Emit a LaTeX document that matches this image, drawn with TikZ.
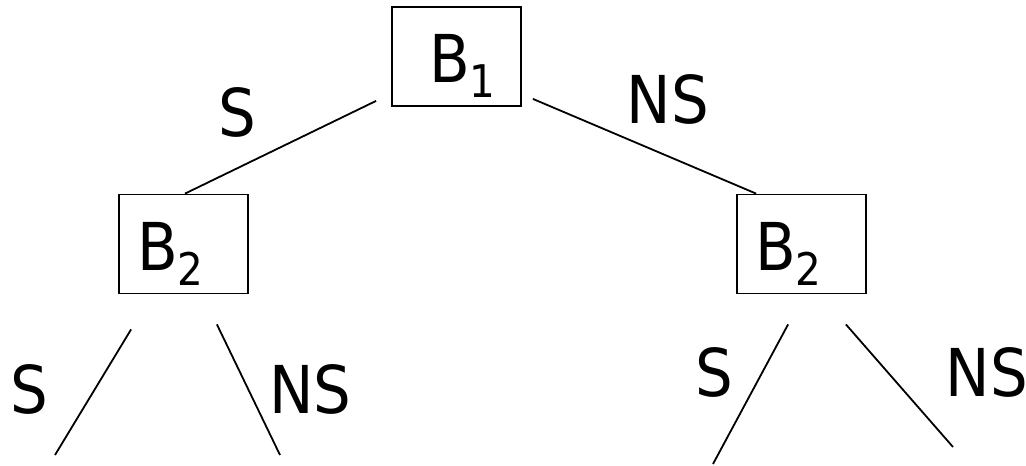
\documentclass[tikz,border=0pt]{standalone}
\usepackage{fontspec}
\setmainfont{DejaVu Sans Condensed}
\newcommand{\lowsub}[1]{\kern-1pt\raisebox{-15pt}{\fontsize{45}{45}\selectfont #1}}

\begin{document}
\begin{tikzpicture}[x=1pt, y=-1pt, line width=1.8pt,
    box/.style={draw, minimum width=129pt, minimum height=99pt, inner sep=0pt},
    lbl/.style={inner sep=0pt, font=\fontsize{66}{70}\selectfont}]
  \useasboundingbox (0,0) rectangle (1026,466);
  \node [box] (b1) at (456.5,56.5) {};  % top box
  \node [box] (b2l) at (183.5,244) {};  % left box
  \node [box] (b2r) at (801.5,244) {};  % right box
  \node [lbl, anchor=base west] (b1t) at (429,82) {B\lowsub{1}};
  \node [lbl, anchor=base west] (b2lt) at (137,270) {B\lowsub{2}};
  \node [lbl, anchor=base west] (b2rt) at (755,270) {B\lowsub{2}};
  \coordinate (endll) at (55,455);
  \coordinate (endlr) at (280,455);
  \coordinate (endrl) at (713,464);
  \coordinate (endrr) at (953,447);
  \draw ([shift={(-15,-6)}]b1.south west) -- ([xshift=1.5pt]b2l.north);
  \draw ([shift={(11,-8)}]b1.south east) -- ([xshift=20pt]b2r.north west);
  \draw ([shift={(13,35)}]b2l.south west) -- (endll);
  \draw ([shift={(-32,30)}]b2l.south east) -- (endlr);
  \draw ([shift={(52,30)}]b2r.south west) -- (endrl);
  \draw ([shift={(-21,30)}]b2r.south east) -- (endrr);
  \node [lbl] (s1) at (237.5,112) {S};
  \node [lbl] (ns1) at (668,99) {NS};
  \node [lbl] (s2) at (29,389) {S};
  \node [lbl] (ns2) at (310.5,389) {NS};
  \node [lbl] (s3) at (714,372.5) {S};
  \node [lbl] (ns3) at (987,372.5) {NS};
\end{tikzpicture}
\end{document}
